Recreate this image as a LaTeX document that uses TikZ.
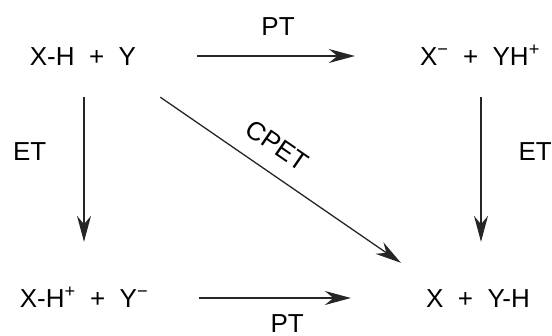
\documentclass[tikz,border=0pt]{standalone}
\usepackage{fontspec}
\setmainfont{Liberation Sans}
\usepackage{tikz}
\usetikzlibrary{arrows.meta,positioning,calc}

\begin{document}
\begin{tikzpicture}[
    x=1pt, y=-1pt,
    species/.style={
        inner sep=0pt, text height=18pt, text depth=0pt,
        font=\fontsize{26}{31}\selectfont
    },
    arrow/.style={
        -{Stealth[length=26pt,width=14pt]}, line width=1.3pt, black!85
    },
    lbl/.style={
        inner sep=0pt, text height=18pt, text depth=0pt,
        font=\fontsize{26}{31}\selectfont, text=black
    }
]
\useasboundingbox (0,0) rectangle (552,335);

% Species at the four corners of the square scheme
\node[species] (xhy)  at (83,56)   {X-H~~+~~Y};
\node[species] (xyh)  at (480,56)  {X\textsuperscript{−}~~+~~YH\textsuperscript{+}};
\node[species] (xhpy) at (84,298)  {X-H\textsuperscript{+}~~+~~Y\textsuperscript{−}};
\node[species] (xyhf) at (478,298) {X~~+~~Y-H};

% Proton transfer steps
\draw[arrow, shorten <=61pt, shorten >=65pt] (xhy.east) -- (xhy.east -| xyh.west)
    node[lbl, midway, above=20pt] {PT};
\draw[arrow, shorten <=51pt, shorten >=75pt] (xhpy.east) -- (xhpy.east -| xyhf.west)
    node[lbl, midway, below=16pt] {PT};

% Electron transfer steps
\draw[arrow, shorten <=32pt, shorten >=47pt] ([xshift=1pt]xhy.south) -- ([xshift=1pt]xhy.south |- xhpy.north)
    node[lbl, pos=0.386, left=37pt] {ET};
\draw[arrow, shorten <=32pt, shorten >=47pt] ([xshift=1pt]xyh.south) -- ([xshift=1pt]xyh.south |- xyhf.north)
    node[lbl, pos=0.386, right=37pt] {ET};

% Concerted pathway
\draw[arrow] ([xshift=24pt,yshift=-32pt]xhy.south east) -- ([xshift=-25pt,yshift=26pt]xyhf.north west)
    node[lbl, pos=0.424, sloped, above=17pt] {CPET};

\end{tikzpicture}
\end{document}
